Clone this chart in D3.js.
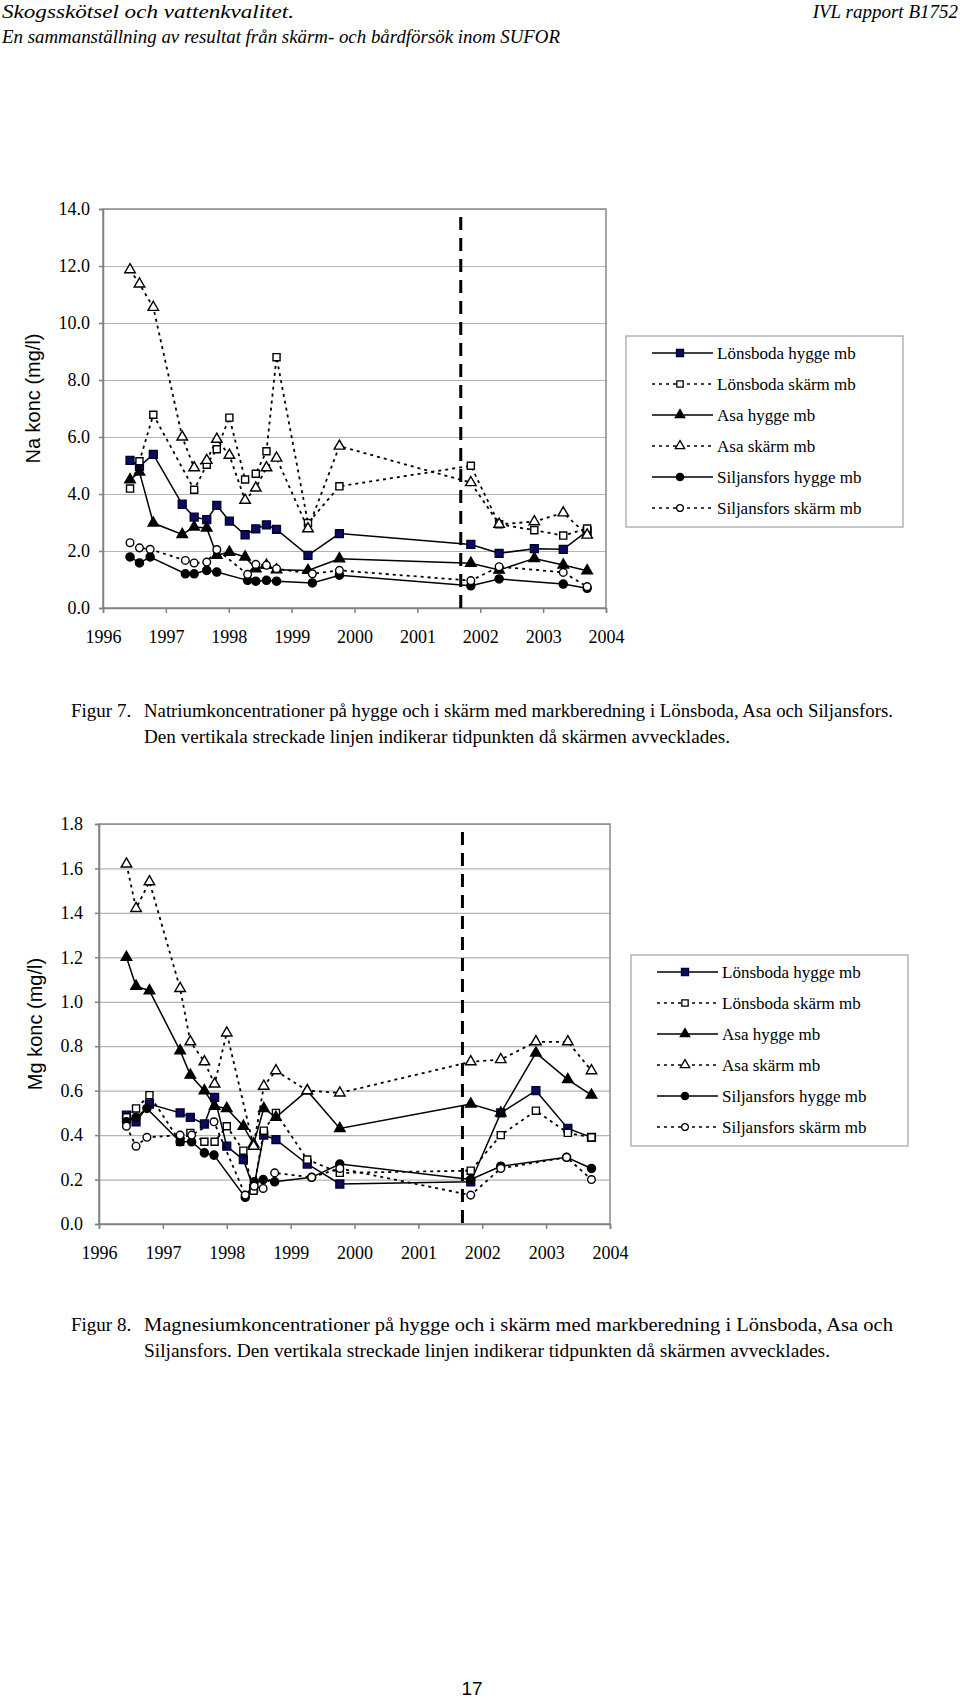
<!DOCTYPE html>
<html>
<head>
<meta charset="utf-8">
<script src="https://cdn.jsdelivr.net/npm/d3@7"></script>
<style>
  body { margin: 0; background: #fff; }
  svg { display: block; }
</style>
</head>
<body>
<script>
// Legend / series names
const seriesNames = ["Lönsboda hygge mb", "Lönsboda skärm mb", "Asa hygge mb", "Asa skärm mb", "Siljansfors hygge mb", "Siljansfors skärm mb"];
const yearTicks = [1996, 1997, 1998, 1999, 2000, 2001, 2002, 2003, 2004];
const screenRemoved = 2001.69; // vertical dashed line

// Figure 7 - Na (mg/l)
const naTicks = [0, 2, 4, 6, 8, 10, 12, 14];
const naDatesLA = [1996.43, 1996.58, 1996.80, 1997.26, 1997.45, 1997.65, 1997.81, 1998.01, 1998.26, 1998.43, 1998.60, 1998.76, 1999.26, 1999.76, 2001.85, 2002.30, 2002.86, 2003.32, 2003.70];
const naLonsHygge = [5.18, 4.97, 5.39, 3.64, 3.19, 3.10, 3.60, 3.05, 2.57, 2.78, 2.92, 2.76, 1.85, 2.61, 2.23, 1.92, 2.08, 2.06, 2.70];
const naLonsSkarm = [4.19, 5.15, 6.78, null, 4.15, 5.03, 5.57, 6.68, 4.51, 4.71, 5.50, 8.80, 2.98, 4.27, 4.99, 2.94, 2.73, 2.54, 2.79];
const naAsaHygge  = [4.50, 4.77, 2.98, 2.58, 2.84, 2.81, 1.85, 1.96, 1.79, 1.38, 1.50, 1.34, 1.32, 1.73, 1.57, 1.33, 1.74, 1.51, 1.31];
const naAsaSkarm  = [11.87, 11.37, 10.55, 6.00, 4.92, 5.18, 5.92, 5.36, 3.78, 4.21, 4.92, 5.26, 2.78, 5.68, 4.40, 2.94, 3.03, 3.34, 2.56];
const naDatesS = [1996.43, 1996.58, 1996.75, 1997.31, 1997.45, 1997.65, 1997.81, 1998.30, 1998.43, 1998.60, 1998.76, 1999.33, 1999.76, 2001.85, 2002.30, 2003.32, 2003.70];
const naSiljHygge = [1.79, 1.58, 1.79, 1.20, 1.20, 1.32, 1.26, 0.97, 0.94, 0.97, 0.94, 0.88, 1.15, 0.78, 1.02, 0.84, 0.69];
const naSiljSkarm = [2.29, 2.11, 2.06, 1.67, 1.58, 1.61, 2.05, 1.18, 1.53, 1.50, 1.38, 1.20, 1.32, 0.96, 1.45, 1.25, 0.75];

// Figure 8 - Mg (mg/l)
const mgTicks = [0, 0.2, 0.4, 0.6, 0.8, 1.0, 1.2, 1.4, 1.6, 1.8];
const mgDatesLA = [1996.43, 1996.58, 1996.79, 1997.27, 1997.43, 1997.65, 1997.81, 1998.00, 1998.26, 1998.42, 1998.58, 1998.77, 1999.26, 1999.77, 2001.82, 2002.29, 2002.84, 2003.34, 2003.71];
const mgLonsHygge = [0.49, 0.46, 0.54, 0.50, 0.48, 0.45, 0.57, 0.35, 0.29, 0.16, 0.40, 0.38, 0.27, 0.18, 0.19, 0.50, 0.60, 0.43, 0.39];
const mgLonsSkarm = [0.48, 0.52, 0.58, 0.37, 0.41, 0.37, 0.37, 0.44, 0.33, 0.15, 0.42, 0.50, 0.29, 0.23, 0.24, 0.40, 0.51, 0.41, 0.39];
const mgAsaHygge  = [1.20, 1.07, 1.05, 0.78, 0.67, 0.60, 0.53, 0.52, 0.44, 0.36, 0.52, 0.48, 0.60, 0.43, 0.54, 0.50, 0.77, 0.65, 0.58];
const mgAsaSkarm  = [1.62, 1.42, 1.54, 1.06, 0.82, 0.73, 0.63, 0.86, null, 0.35, 0.62, 0.69, 0.60, 0.59, 0.73, 0.74, 0.82, 0.82, 0.69];
const mgDatesS = [1996.43, 1996.58, 1996.75, 1997.27, 1997.45, 1997.65, 1997.80, 1998.29, 1998.43, 1998.57, 1998.75, 1999.33, 1999.77, 2001.82, 2002.29, 2003.32, 2003.71];
const mgSiljHygge = [0.46, 0.48, 0.52, 0.37, 0.37, 0.32, 0.31, 0.12, 0.19, 0.20, 0.19, 0.21, 0.27, 0.20, 0.26, 0.30, 0.25];
const mgSiljSkarm = [0.44, 0.35, 0.39, 0.40, 0.40, null, 0.46, 0.13, 0.17, 0.16, 0.23, 0.21, 0.25, 0.13, 0.25, 0.30, 0.20];

const svg = d3.select("body").append("svg")
    .attr("width", 960)
    .attr("height", 1699)
    .style("background", "#fff");

const serif = "'Liberation Serif', 'Times New Roman', serif";
const sans = "'Liberation Sans', Arial, sans-serif";

// marker + line style per series (same order as seriesNames)
const styles = [
    { shape: d3.symbolSquare,   size: 62, fill: "#0b0b60", stroke: "#000033", dash: null },
    { shape: d3.symbolSquare,   size: 50, fill: "#fff",    stroke: "#000",    dash: "3,4" },
    { shape: d3.symbolTriangle, size: 48, fill: "#000",    stroke: "#000",    dash: null },
    { shape: d3.symbolTriangle, size: 48, fill: "#fff",    stroke: "#000",    dash: "3,4" },
    { shape: d3.symbolCircle,   size: 52, fill: "#000",    stroke: "#000",    dash: null },
    { shape: d3.symbolCircle,   size: 46, fill: "#fff",    stroke: "#000",    dash: "3,4" }
];

function zipSeries(dates, values) {
    return dates.map((d, i) => ({ x: d, y: values[i] })).filter(p => p.y !== null);
}

function drawChart(opt) {
    const g = svg.append("g");
    const x = d3.scaleLinear().domain([1996, 2004]).range([opt.left, opt.right]);
    const y = d3.scaleLinear().domain([0, opt.yMax]).range([opt.bottom, opt.top]);

    // gridlines
    g.append("g")
        .attr("transform", `translate(${opt.left},0)`)
        .call(d3.axisLeft(y).tickValues(opt.yTicks.slice(1)).tickSize(-(opt.right - opt.left)).tickFormat(""))
        .call(s => s.select(".domain").remove())
        .selectAll("line").attr("stroke", "#b4b4b4").attr("stroke-width", 1.2);

    // plot border
    g.append("rect")
        .attr("x", opt.left).attr("y", opt.top)
        .attr("width", opt.right - opt.left).attr("height", opt.bottom - opt.top)
        .attr("fill", "none").attr("stroke", "#8a8a8a").attr("stroke-width", 1.5);

    // y axis
    const ya = g.append("g")
        .attr("transform", `translate(${opt.left},0)`)
        .call(d3.axisLeft(y).tickValues(opt.yTicks).tickSize(4).tickPadding(opt.yPad).tickFormat(d3.format(".1f")));
    ya.select(".domain").attr("stroke", "#808080").attr("stroke-width", 1.5);
    ya.selectAll("line").attr("stroke", "#808080").attr("stroke-width", 1.5);
    ya.selectAll("text").attr("font-family", serif).attr("font-size", 18).attr("fill", "#000");

    // x axis
    const xa = g.append("g")
        .attr("transform", `translate(0,${opt.bottom})`)
        .call(d3.axisBottom(x).tickValues(yearTicks).tickSize(5).tickPadding(17).tickFormat(d3.format("d")));
    xa.select(".domain").attr("stroke", "#808080").attr("stroke-width", 1.5);
    xa.selectAll("line").attr("stroke", "#808080").attr("stroke-width", 1.5);
    xa.selectAll("text").attr("font-family", serif).attr("font-size", 18).attr("fill", "#000");

    // y axis title
    g.append("text")
        .attr("transform", `translate(${opt.titleX},${(opt.top + opt.bottom) / 2 + opt.titleDy}) rotate(-90)`)
        .attr("text-anchor", "middle")
        .attr("font-family", sans).attr("font-size", 20)
        .text(opt.title);

    // dashed line where the screen was removed
    g.append("line")
        .attr("x1", x(screenRemoved)).attr("x2", x(screenRemoved))
        .attr("y1", opt.top + 8).attr("y2", opt.bottom)
        .attr("stroke", "#000").attr("stroke-width", 3)
        .attr("stroke-dasharray", "13,8");

    const line = d3.line().x(d => x(d.x)).y(d => y(d.y));

    opt.series.forEach((s, i) => {
        const st = styles[i];
        const pts = zipSeries(s.dates, s.values);
        g.append("path")
            .datum(pts)
            .attr("d", line)
            .attr("fill", "none")
            .attr("stroke", "#000")
            .attr("stroke-width", st.dash ? 1.8 : 1.5)
            .attr("stroke-dasharray", st.dash);
        g.selectAll(null)
            .data(pts)
            .join("path")
            .attr("transform", d => `translate(${x(d.x)},${y(d.y)})`)
            .attr("d", d3.symbol().type(st.shape).size(st.size))
            .attr("fill", st.fill)
            .attr("stroke", st.stroke)
            .attr("stroke-width", 1.4);
    });

    // legend
    const lg = g.append("g").attr("transform", `translate(${opt.legX},${opt.legY})`);
    lg.append("rect")
        .attr("width", opt.legW).attr("height", 191)
        .attr("fill", "#fff").attr("stroke", "#a8a8a8").attr("stroke-width", 1.3);
    seriesNames.forEach((name, i) => {
        const st = styles[i];
        const cy = 17 + i * 31;
        lg.append("line")
            .attr("x1", 26).attr("x2", 87).attr("y1", cy).attr("y2", cy)
            .attr("stroke", "#000").attr("stroke-width", 1.5)
            .attr("stroke-dasharray", st.dash);
        lg.append("path")
            .attr("transform", `translate(54,${cy})`)
            .attr("d", d3.symbol().type(st.shape).size(st.size * 0.8))
            .attr("fill", st.fill).attr("stroke", st.stroke).attr("stroke-width", 1.3);
        lg.append("text")
            .attr("x", 91).attr("y", cy + 6)
            .attr("font-family", serif).attr("font-size", 17)
            .text(name);
    });
}

// header
svg.append("text").attr("x", 2).attr("y", 18)
    .attr("font-family", serif).attr("font-style", "italic").attr("font-size", 19)
    .attr("textLength", 292).attr("lengthAdjust", "spacingAndGlyphs")
    .text("Skogsskötsel och vattenkvalitet.");
svg.append("text").attr("x", 2).attr("y", 43)
    .attr("font-family", serif).attr("font-style", "italic").attr("font-size", 19)
    .attr("textLength", 558).attr("lengthAdjust", "spacingAndGlyphs")
    .text("En sammanställning av resultat från skärm- och bårdförsök inom SUFOR");
svg.append("text").attr("x", 958).attr("y", 18).attr("text-anchor", "end")
    .attr("font-family", serif).attr("font-style", "italic").attr("font-size", 19)
    .text("IVL rapport B1752");

drawChart({
    left: 103, right: 606, top: 209, bottom: 608,
    yMax: 14, yTicks: naTicks, yPad: 9,
    title: "Na konc (mg/l)", titleX: 40, titleDy: -10,
    legX: 626, legY: 336, legW: 277,
    series: [
        { dates: naDatesLA, values: naLonsHygge },
        { dates: naDatesLA, values: naLonsSkarm },
        { dates: naDatesLA, values: naAsaHygge },
        { dates: naDatesLA, values: naAsaSkarm },
        { dates: naDatesS, values: naSiljHygge },
        { dates: naDatesS, values: naSiljSkarm }
    ]
});

drawChart({
    left: 99, right: 610, top: 824, bottom: 1224,
    yMax: 1.8, yTicks: mgTicks, yPad: 12,
    title: "Mg konc (mg/l)", titleX: 42, titleDy: 0,
    legX: 631, legY: 955, legW: 277,
    series: [
        { dates: mgDatesLA, values: mgLonsHygge },
        { dates: mgDatesLA, values: mgLonsSkarm },
        { dates: mgDatesLA, values: mgAsaHygge },
        { dates: mgDatesLA, values: mgAsaSkarm },
        { dates: mgDatesS, values: mgSiljHygge },
        { dates: mgDatesS, values: mgSiljSkarm }
    ]
});

// captions
function caption(label, lines, y0) {
    svg.append("text").attr("x", 71).attr("y", y0)
        .attr("font-family", serif).attr("font-size", 19).text(label);
    lines.forEach((l, i) => {
        svg.append("text").attr("x", 144).attr("y", y0 + i * 26)
            .attr("font-family", serif).attr("font-size", 19)
            .attr("textLength", l.w).attr("lengthAdjust", "spacingAndGlyphs")
            .text(l.t);
    });
}
caption("Figur 7.", [
    { t: "Natriumkoncentrationer på hygge och i skärm med markberedning i Lönsboda, Asa och Siljansfors.", w: 749 },
    { t: "Den vertikala streckade linjen indikerar tidpunkten då skärmen avvecklades.", w: 586 }
], 717);
caption("Figur 8.", [
    { t: "Magnesiumkoncentrationer på hygge och i skärm med markberedning i Lönsboda, Asa och", w: 749 },
    { t: "Siljansfors. Den vertikala streckade linjen indikerar tidpunkten då skärmen avvecklades.", w: 686 }
], 1331);

svg.append("text").attr("x", 472).attr("y", 1695).attr("text-anchor", "middle")
    .attr("font-family", sans).attr("font-size", 19).text("17");
</script>
</body>
</html>
